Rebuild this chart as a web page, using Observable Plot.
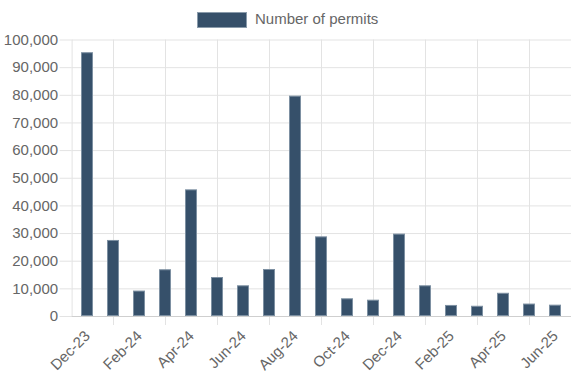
<!DOCTYPE html>
<html>
<head>
<meta charset="utf-8">
<script src="https://cdn.jsdelivr.net/npm/d3@7"></script>
<script src="https://cdn.jsdelivr.net/npm/@observablehq/plot@0.6"></script>
<style>
  html, body { margin: 0; padding: 0; background: #fff; }
  body { width: 575px; height: 383px; overflow: hidden; font-family: "Liberation Sans", Arial, sans-serif; }
  #legend { height: 29px; position: relative; }
  #legend .box { position: absolute; left: 197px; top: 12px; width: 48px; height: 14px; background: #36506a; border: 1px solid #8a9bab; }
  #legend .lbl { position: absolute; left: 255px; top: 10px; font-size: 15px; line-height: 18px; color: #666; }
</style>
</head>
<body>
<div id="legend"><div class="box"></div><div class="lbl">Number of permits</div></div>
<div id="chart"></div>
<script>
const months = ["Dec-23","Jan-24","Feb-24","Mar-24","Apr-24","May-24","Jun-24","Jul-24","Aug-24","Sep-24","Oct-24","Nov-24","Dec-24","Jan-25","Feb-25","Mar-25","Apr-25","May-25","Jun-25"];
const permits = [95400, 27500, 9200, 16900, 45800, 14100, 11100, 17000, 79700, 28800, 6400, 5900, 29800, 11100, 4000, 3700, 8400, 4500, 4100];
const labelMonths = ["Dec-23","Feb-24","Apr-24","Jun-24","Aug-24","Oct-24","Dec-24","Feb-25","Apr-25","Jun-25"];
const gridMonths = ["Jan-24","Mar-24","May-24","Jul-24","Sep-24","Nov-24","Jan-25","Mar-25","May-25"];
const yTicks = [0,10000,20000,30000,40000,50000,60000,70000,80000,90000,100000];

const data = months.map((m, i) => ({month: m, value: permits[i]}));
const gridColor = "#e3e3e3";

const chart = Plot.plot({
  width: 575,
  height: 354,
  marginTop: 10.5,
  marginBottom: 67,
  marginLeft: 71.6,
  marginRight: 4,
  style: {fontFamily: "'Liberation Sans', Arial, sans-serif", fontSize: "15px", color: "#666", background: "#fff"},
  x: {type: "band", domain: months, paddingInner: 0.52, paddingOuter: 0.26, axis: null, label: null},
  y: {domain: [0, 100000], axis: null, label: null},
  marks: [
    Plot.gridY(yTicks, {stroke: gridColor, strokeOpacity: 1}),
    Plot.gridX(gridMonths, {stroke: gridColor, strokeOpacity: 1}),
    Plot.frame({anchor: "left", stroke: gridColor}),
    Plot.axisY(yTicks, {tickSize: 12, tickPadding: 2, stroke: gridColor, fill: "#666", fontSize: 15, label: null, tickFormat: d3.format(",")}),
    Plot.axisX(gridMonths, {tickSize: 9, stroke: gridColor, label: null, tickFormat: () => ""}),
    Plot.axisX(labelMonths, {tickSize: 0, tickPadding: 17, tickRotate: -45, fill: "#666", fontSize: 15, label: null}),
    Plot.barY(data, {x: "month", y: "value", fill: "#36506a", stroke: "#7d90a2", strokeWidth: 1, inset: 0.5}),
    Plot.ruleY([0], {stroke: "#cfcfcf"})
  ]
});
document.getElementById("chart").appendChild(chart);
</script>
</body>
</html>
